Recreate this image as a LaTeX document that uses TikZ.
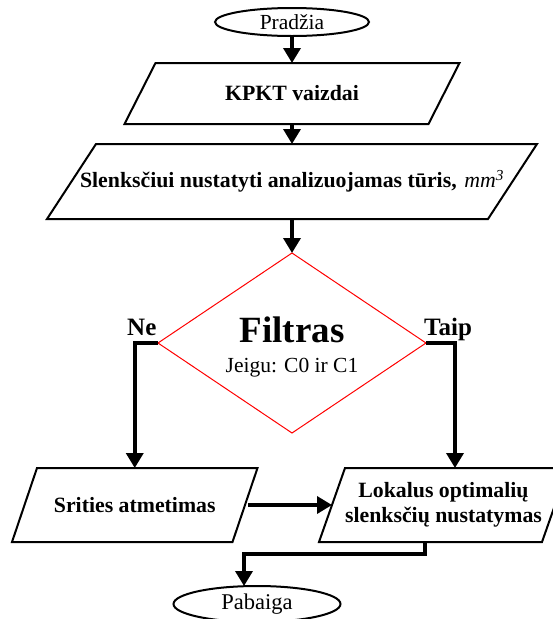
\documentclass[tikz,border=0pt]{standalone}
\usepackage{fontspec}
\setmainfont{Liberation Serif}
\usetikzlibrary{arrows.meta,shapes.geometric}
\newcommand\boldtext{\fontsize{21.8}{25}\selectfont\bfseries}
\newcommand\plaintext{\fontsize{21.5}{25}\selectfont}
\newcommand\drawpara[2]{\draw[outline] ([xshift=#2pt]#1.north west) -- ([xshift=#2pt]#1.north east) -- ([xshift=-#2pt]#1.south east) -- ([xshift=-#2pt]#1.south west) -- cycle;}
\tikzset{
  flowline/.style={line width=3.5pt, line join=miter, -{Triangle[width=17pt,length=15pt]}},
  terminal/.style={ellipse, draw, line width=2pt, inner sep=0pt, outer sep=0pt},
  iobox/.style={rectangle, inner sep=0pt, outer sep=0pt, align=center, font=\boldtext},
  outline/.style={draw, line width=2pt, line join=miter},
  decision/.style={diamond, draw=red, line width=1pt, inner sep=0pt, outer sep=0pt, minimum width=268pt, minimum height=180pt},
  branchlabel/.style={anchor=base west, inner sep=0pt, font=\fontsize{25}{28}\selectfont\bfseries},
}
\begin{document}
\begin{tikzpicture}[x=1pt,y=-1pt]
\useasboundingbox (0,0) rectangle (553,619);
\clip (0,0) rectangle (553,619);
\node[terminal, minimum width=154pt, minimum height=28pt, font=\plaintext] (start) at (292,22) {Pradžia};
\node[iobox, minimum width=304pt, minimum height=61pt] (kpkt) at (292,93.5) {KPKT vaizdai};
\drawpara{kpkt}{15.5}
\node[iobox, minimum width=441pt, minimum height=75pt] (slenk) at (292,181.5) {Slenksčiui nustatyti analizuojamas tūris,\hspace{0.35em}{\mdseries\itshape mm\textsuperscript{3}}};
\drawpara{slenk}{24.5}
\node[decision] (filter) at (292,343) {};
\node[anchor=base, inner sep=0pt, font=\fontsize{37}{40}\selectfont\bfseries] (ftitle) at (292,342) {Filtras};
\node[anchor=base, inner sep=0pt, font=\plaintext] (fcond) at (292,372) {Jeigu: C0 ir C1};
\node[branchlabel] (ne) at (127,335) {Ne};
\node[branchlabel] (taip) at (424,335) {Taip};
\node[iobox, minimum width=220.5pt, minimum height=74pt] (srities) at (134.75,505) {Srities atmetimas};
\drawpara{srities}{12.5}
\node[iobox, minimum width=223pt, minimum height=74pt] (lokalus) at (443.5,505) {Lokalus optimalių\\slenksčių nustatymas};
\drawpara{lokalus}{13}
\node[terminal, minimum width=167pt, minimum height=36pt, font=\fontsize{22.5}{25}\selectfont] (end) at (257,604) {Pabaiga};
\draw[flowline] (start.south) -- (kpkt.north);
\draw[flowline] (kpkt.south) -- (slenk.north);
\draw[flowline] (slenk.south) -- (filter.north);
\draw[flowline] (filter.west) -| (srities.north);
\draw[flowline] (filter.east) -| ([xshift=11.5pt]lokalus.north);
\draw[flowline] ([xshift=3pt]srities.east) -- (lokalus.west);
\draw[flowline] ([xshift=-18.5pt]lokalus.south) -- ++(0,12) -| ([xshift=-13pt]end.north);
\end{tikzpicture}
\end{document}
